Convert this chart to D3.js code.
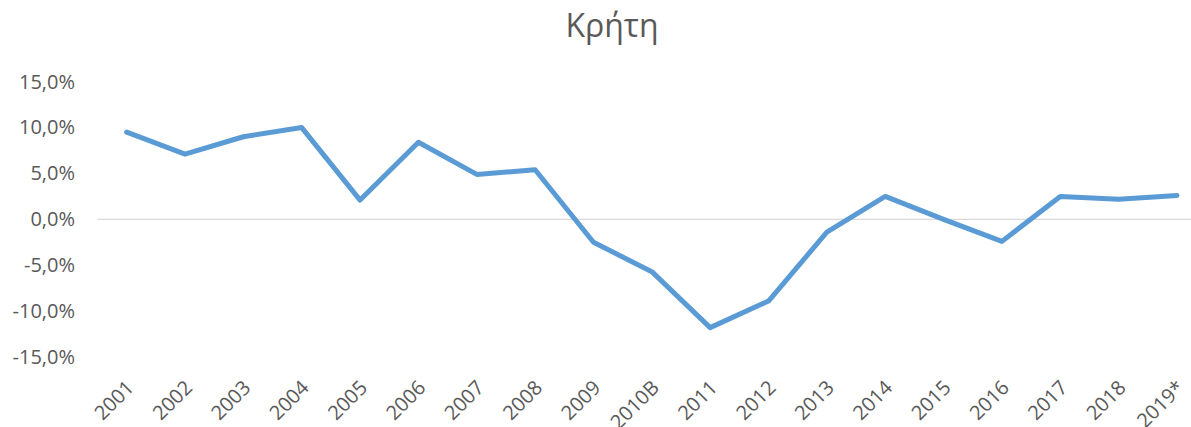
<!DOCTYPE html>
<html>
<head>
<meta charset="utf-8">
<script src="https://cdn.jsdelivr.net/npm/d3@7"></script>
<style>
  body { margin: 0; background: #fff; }
  svg text { font-family: "Open Sans", sans-serif; fill: #595959; }
</style>
</head>
<body>
<div id="chart"></div>
<script>

// Data
var years = ["2001", "2002", "2003", "2004", "2005", "2006", "2007", "2008", "2009", "2010B",
             "2011", "2012", "2013", "2014", "2015", "2016", "2017", "2018", "2019*"];
var growth = [9.5, 7.1, 9.0, 10.0, 2.1, 8.4, 4.9, 5.4, -2.5, -5.7,
              -11.8, -8.9, -1.4, 2.5, 0.0, -2.4, 2.5, 2.2, 2.6];
var yTicks = [-15, -10, -5, 0, 5, 10, 15];
var title = "Κρήτη";

var width = 1191, height = 427;

var svg = d3.select("#chart").append("svg")
    .attr("width", width)
    .attr("height", height);

// Scales
var step = 58.35;
var x = d3.scalePoint()
    .domain(years)
    .range([97.5, 97.5 + years.length * step])
    .padding(0.5);

var y = d3.scaleLinear()
    .domain([-15, 15])
    .range([357, 81.7]);

var locale = d3.formatLocale({ decimal: ",", thousands: ".", grouping: [3], currency: ["", "€"], minus: "-" });
var fmt = locale.format(".1f");

// title
svg.append("text")
    .attr("x", 612)
    .attr("y", 37)
    .attr("text-anchor", "middle")
    .style("font-size", "32px")
    .text(title);

// zero line only
svg.append("line")
    .attr("x1", 97.5)
    .attr("x2", width)
    .attr("y1", y(0))
    .attr("y2", y(0))
    .attr("stroke", "#d9d9d9")
    .attr("stroke-width", 1.3);

// y axis labels
var yAxis = d3.axisLeft(y)
    .tickValues(yTicks)
    .tickSize(0)
    .tickPadding(0)
    .tickFormat(function(d) { return fmt(d) + "%"; });

svg.append("g")
    .attr("transform", "translate(75,0)")
    .call(yAxis)
    .call(function(g) { g.select(".domain").remove(); })
    .selectAll("text")
    .style("font-size", "20px")
    .attr("fill", "#595959");

// x axis labels, rotated
var xAxis = d3.axisBottom(x).tickSize(0).tickPadding(0);

svg.append("g")
    .attr("transform", "translate(0,384)")
    .call(xAxis)
    .call(function(g) { g.select(".domain").remove(); })
    .selectAll("text")
    .style("font-size", "20px")
    .attr("fill", "#595959")
    .attr("text-anchor", "end")
    .attr("dy", "0.35em")
    .attr("transform", "translate(3,0) rotate(-45)");

// line
var line = d3.line()
    .x(function(d, i) { return x(years[i]); })
    .y(function(d) { return y(d); });

svg.append("path")
    .datum(growth)
    .attr("d", line)
    .attr("fill", "none")
    .attr("stroke", "#5b9bd5")
    .attr("stroke-width", 5)
    .attr("stroke-linejoin", "round")
    .attr("stroke-linecap", "round");

</script>
</body>
</html>
